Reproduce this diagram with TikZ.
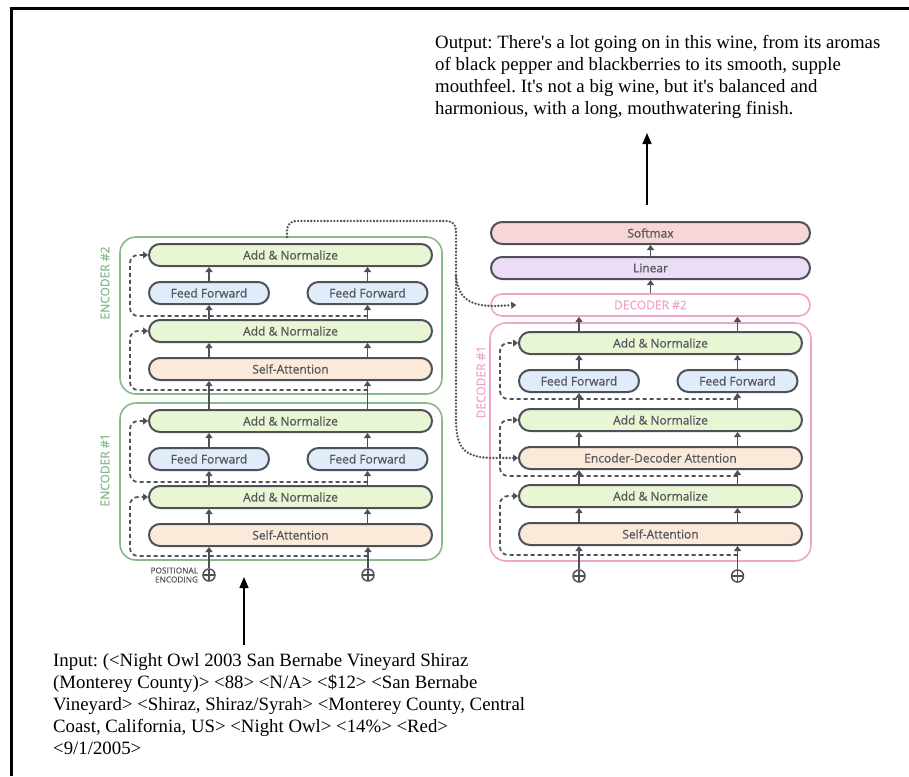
\documentclass[tikz,border=0pt]{standalone}
\usepackage{fontspec}
\setmainfont{Liberation Serif}
\newfontfamily\blockfont[FakeBold=0.6]{Open Sans}
\usetikzlibrary{positioning}
\usetikzlibrary{calc}
\usetikzlibrary{arrows.meta}
\definecolor{edge}{RGB}{78,82,88}
\definecolor{labelgray}{RGB}{85,87,92}
\definecolor{encgreen}{RGB}{138,184,138}
\definecolor{decpink}{RGB}{238,165,200}
\definecolor{addfill}{RGB}{233,246,212}
\definecolor{fffill}{RGB}{224,236,250}
\definecolor{attfill}{RGB}{251,233,217}
\definecolor{softfill}{RGB}{246,214,214}
\definecolor{linfill}{RGB}{236,221,246}
\tikzset{
  block/.style={draw=edge, line width=2pt, rounded corners=11pt, minimum height=22pt, inner sep=0pt,
    font=\blockfont\fontsize{12}{14}\selectfont, text=labelgray},
  wide/.style={block, minimum width=283pt},
  half/.style={block, minimum width=120pt},
  outer/.style={block, minimum width=319pt},
  plus/.style={circle, draw=edge, line width=1.5pt, minimum size=12pt, inner sep=0pt,
    path picture={\draw[edge, line width=1.5pt] (path picture bounding box.north) -- (path picture bounding box.south)
      (path picture bounding box.west) -- (path picture bounding box.east);}},
  flow/.style={draw=edge, line width=1.8pt, -{Triangle[length=5pt,width=7pt]}},
  resid/.style={draw=edge, line width=1.8pt, dash pattern=on 4pt off 3pt, rounded corners=8pt,
    -{Triangle[length=5pt,width=7pt]}},
  link/.style={draw=edge, line width=2.6pt, line cap=round, dash pattern=on 0pt off 3.3pt},
  stacklabel/.style={rotate=90, font=\blockfont\fontsize{12}{14}\selectfont},
  story/.style={anchor=north west, inner sep=0pt, align=left, font=\fontsize{18.8}{22}\selectfont\frenchspacing},
  bigarrow/.style={draw=black, line width=1.5pt, -{Triangle[length=11pt,width=9pt]}}
}
\begin{document}
\begin{tikzpicture}[x=1pt, y=-1pt]
  \useasboundingbox (0,0) rectangle (909,776);
  \draw[line width=3pt] (11,776) -- (11,9) -- (909,9);

  \coordinate (lane) at (130,0);
  \foreach \n/\d/\l in {2/0/283,1/166/470}{
    \draw[encgreen, line width=1.6pt, rounded corners=16pt] (120,{237+\d}) rectangle (442,{394+\d});
    \node[stacklabel, text=encgreen] (enclab\n) at (105,\l) {ENCODER \#\n};
    \node[wide, fill=addfill] (top\n) at (290.5,{255+\d}) {Add \& Normalize};
    \node[half, fill=fffill] (ffl\n) at (209,{293+\d}) {Feed Forward};
    \node[half, fill=fffill] (ffr\n) at (367.5,{293+\d}) {Feed Forward};
    \node[wide, fill=addfill] (mid\n) at (290.5,{331+\d}) {Add \& Normalize};
    \node[wide, fill=attfill] (sa\n) at (290.5,{369+\d}) {Self-Attention};
    \draw[flow] (sa\n.north -| ffl\n) -- (mid\n.south -| ffl\n);
    \draw[flow] (sa\n.north -| ffr\n) -- (mid\n.south -| ffr\n);
    \draw[flow] (mid\n.north -| ffl\n) -- (ffl\n.south);
    \draw[flow] (mid\n.north -| ffr\n) -- (ffr\n.south);
    \draw[flow] (ffl\n.north) -- (top\n.south -| ffl\n);
    \draw[flow] (ffr\n.north) -- (top\n.south -| ffr\n);
    \draw[resid] ($(sa\n.south -| ffr\n)+(0,9)$) -- ($(sa\n.south -| lane)+(0,9)$) |- (mid\n.west);
    \draw[resid] ($(mid\n.north -| ffr\n)+(0,-3)$) -- ($(mid\n.north -| lane)+(0,-3)$) |- (top\n.west);
  }
  \draw[flow] (top1.north -| ffl1) -- (sa2.south -| ffl1);
  \draw[flow] (top1.north -| ffr1) -- (sa2.south -| ffr1);

  \node[plus] (pe1) at (209,575) {};
  \node[plus] (pe2) at (368,575) {};
  \node[left=4pt of pe1, align=right, inner sep=0pt, text=labelgray,
    font=\blockfont\fontsize{8.3}{9}\selectfont] (pelab) {POSITIONAL\\ENCODING};
  \draw[flow] (pe1.north) -- (sa1.south -| pe1);
  \draw[flow] (pe2.north) -- (sa1.south -| pe2);

  \node[outer, fill=softfill] (softmax) at (650.5,233) {Softmax};
  \node[outer, fill=linfill] (linear) at (650.5,268) {Linear};
  \node[outer, draw=decpink, line width=1.6pt, fill=white, text=decpink] (dec2) at (650.5,305) {DECODER \#2};
  \draw[decpink, line width=1.6pt, rounded corners=16pt] (490,323) rectangle (811,561);
  \node[stacklabel, text=decpink] (declab) at (481,382) {DECODER \#1};
  \coordinate (dlane) at (500,0);
  \node[wide, fill=addfill] (dtop) at (660.5,343) {Add \& Normalize};
  \node[half, fill=fffill] (dffl) at (579,381) {Feed Forward};
  \node[half, fill=fffill] (dffr) at (737.5,381) {Feed Forward};
  \node[wide, fill=addfill] (dmid) at (660.5,420) {Add \& Normalize};
  \node[wide, fill=attfill] (encdec) at (660.5,458) {Encoder-Decoder Attention};
  \node[wide, fill=addfill] (dlow) at (660.5,496) {Add \& Normalize};
  \node[wide, fill=attfill] (dsa) at (660.5,534) {Self-Attention};
  \node[plus] (dpe1) at (579,576) {};
  \node[plus] (dpe2) at (737.5,576) {};

  \draw[flow] (dpe1.north) -- (dsa.south -| dpe1);
  \draw[flow] (dpe2.north) -- (dsa.south -| dpe2);
  \draw[flow] (dsa.north -| dffl) -- (dlow.south -| dffl);
  \draw[flow] (dsa.north -| dffr) -- (dlow.south -| dffr);
  \draw[flow] (dlow.north -| dffl) -- (encdec.south -| dffl);
  \draw[flow] (dlow.north -| dffr) -- (encdec.south -| dffr);
  \draw[flow] (encdec.north -| dffl) -- (dmid.south -| dffl);
  \draw[flow] (encdec.north -| dffr) -- (dmid.south -| dffr);
  \draw[flow] (dmid.north -| dffl) -- (dffl.south);
  \draw[flow] (dmid.north -| dffr) -- (dffr.south);
  \draw[flow] (dffl.north) -- (dtop.south -| dffl);
  \draw[flow] (dffr.north) -- (dtop.south -| dffr);
  \draw[flow] (dtop.north -| dffl) -- (dec2.south -| dffl);
  \draw[flow] (dtop.north -| dffr) -- (dec2.south -| dffr);
  \draw[flow] (dec2.north) -- (linear.south);
  \draw[flow] (linear.north) -- (softmax.south);
  \draw[resid] ($(dsa.south -| dffr)+(0,9)$) -- ($(dsa.south -| dlane)+(0,9)$) |- (dlow.west);
  \draw[resid] ($(encdec.south -| dffr)+(0,6)$) -- ($(encdec.south -| dlane)+(0,6)$) |- (dmid.west);
  \draw[resid] ($(dmid.north -| dffr)+(0,-9)$) -- ($(dmid.north -| dlane)+(0,-9)$) |- (dtop.west);

  \coordinate (encout) at (287,237);
  \coordinate (fork) at (456,276);
  \coordinate (drop) at (456,420);
  \draw[link, rounded corners=9pt] (encout) |- (456,221) -- (drop);
  \draw[link, -{Triangle[length=5pt,width=7pt]}] (fork) .. controls (458,300) and (472,306) .. (495,306) -- ([xshift=26pt]dec2.west);
  \draw[link, -{Triangle[length=5pt,width=7pt]}] (drop) .. controls (456,450) and (466,458) .. (495,458) -- (encdec.west);

  \node[story] (output) at (435,35) {Output: There\textquotesingle s a lot going on in this wine, from its aromas\\
    of black pepper and blackberries to its smooth, supple\\
    mouthfeel. It\textquotesingle s not a big wine, but it\textquotesingle s balanced and\\
    harmonious, with a long, mouthwatering finish.};
  \draw[bigarrow] ([shift={(-3.5pt,16pt)}]softmax.north) -- ++(0,-72);

  \node[story] (input) at (53,653) {Input: (<Night Owl 2003 San Bernabe Vineyard Shiraz\\
    (Monterey County)> <88> <N/A> <\$12> <San Bernabe\\
    Vineyard> <Shiraz, Shiraz/Syrah> <Monterey County, Central\\
    Coast, California, US> <Night Owl> <14\%> <Red>\\
    <9/1/2005>};
  \draw[bigarrow] (244,645) -- (244,577);
\end{tikzpicture}
\end{document}
